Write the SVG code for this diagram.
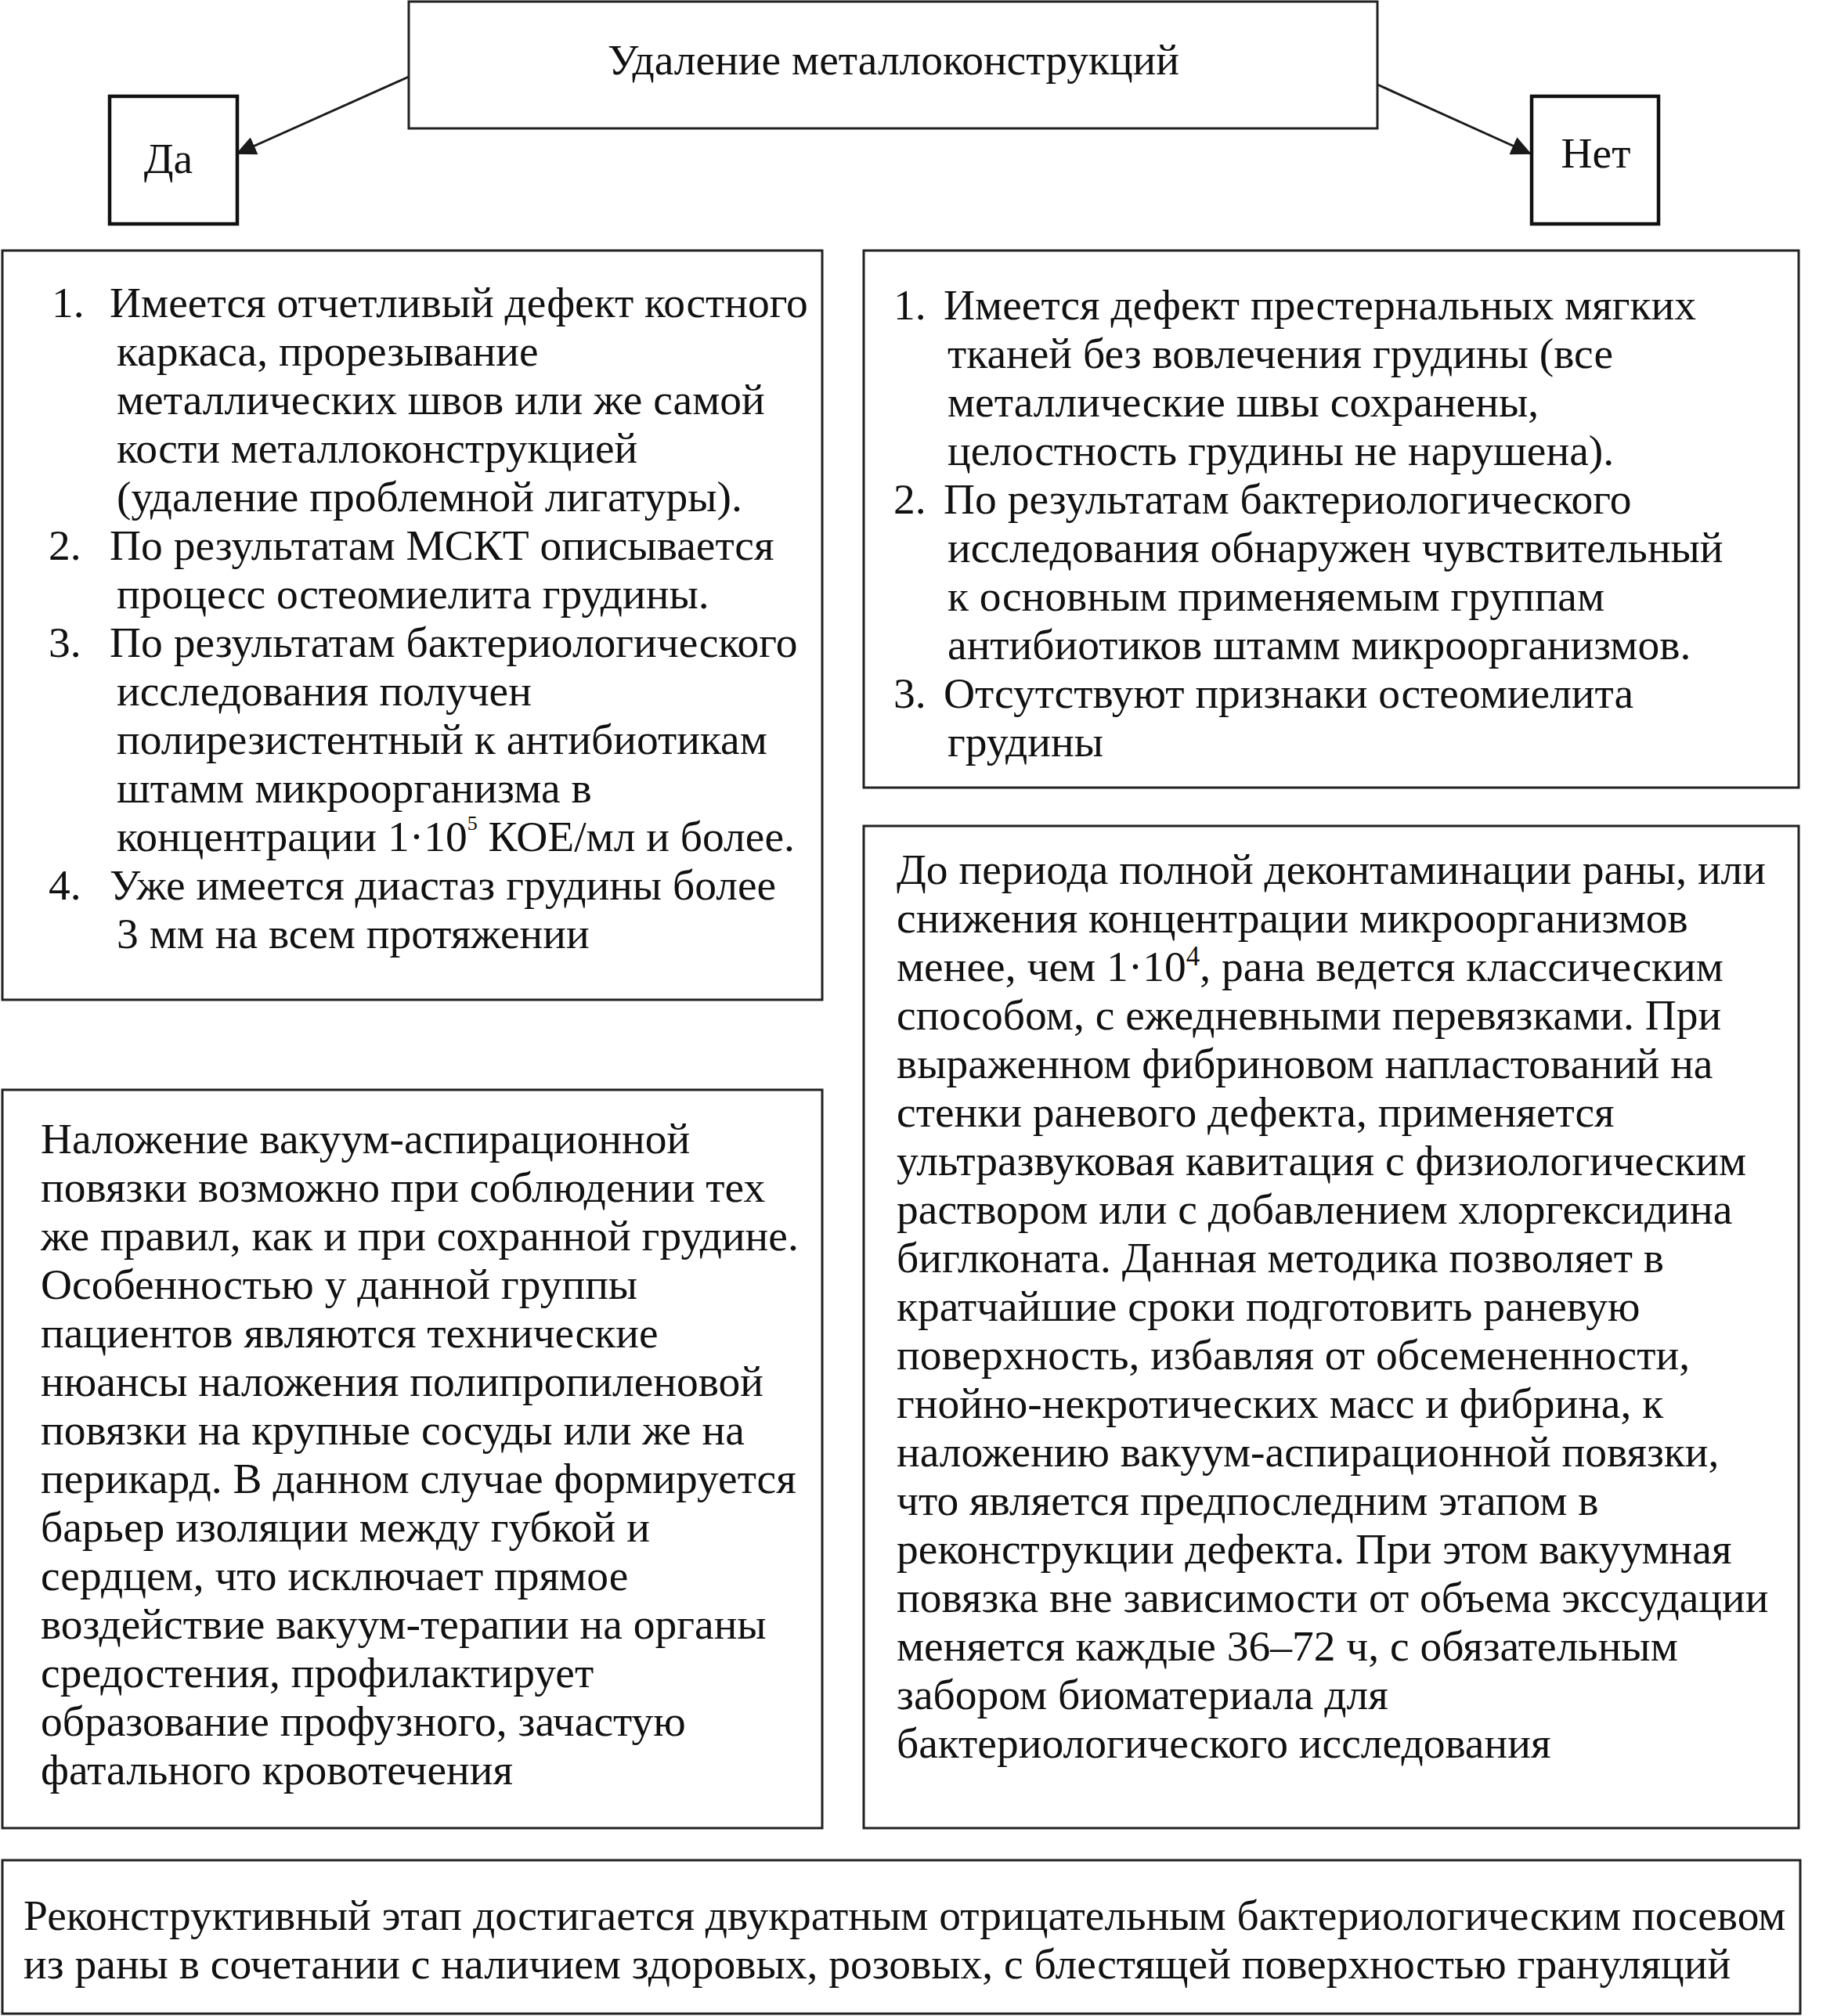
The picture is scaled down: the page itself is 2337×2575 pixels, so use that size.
<svg xmlns="http://www.w3.org/2000/svg" width="2337" height="2575" viewBox="0 0 2337 2575">
<style>
.box{fill:#fff;stroke:#222;stroke-width:3}
.tbox{fill:#fff;stroke:#111;stroke-width:4.5}
.t{font-family:"Liberation Serif","Times New Roman",serif;font-size:55.5px;fill:#111}
.c{text-anchor:middle}
.conn{stroke:#1a1a1a;stroke-width:3;fill:none}
</style>
<defs>
<marker id="ah" markerUnits="userSpaceOnUse" markerWidth="28" markerHeight="24" refX="26" refY="12" orient="auto">
<path d="M0,0 L26,12 L0,24 z" fill="#1a1a1a"/>
</marker>
</defs>
<rect width="2337" height="2575" fill="#fff"/>
<g id="connectors">
<line class="conn" x1="522" y1="98" x2="301" y2="197" marker-end="url(#ah)"/>
<line class="conn" x1="1759" y1="108" x2="1956" y2="197" marker-end="url(#ah)"/>
</g>
<g id="n-root">
<rect class="box" x="522" y="2" width="1237" height="162"/>
<text class="t c" x="1141" y="95">Удаление металлоконструкций</text>
</g>
<g id="n-yes">
<rect class="tbox" x="140" y="123" width="163" height="163"/>
<text class="t c" x="215" y="221">Да</text>
</g>
<g id="n-no">
<rect class="tbox" x="1956" y="123" width="162" height="163"/>
<text class="t c" x="2038" y="214">Нет</text>
</g>
<g id="n-yes-criteria">
<rect class="box" x="3" y="320" width="1047" height="957"/>
<text class="t">
<tspan x="66" y="405">1.</tspan><tspan x="140" y="405">Имеется отчетливый дефект костного</tspan>
<tspan x="149" y="467">каркаса, прорезывание</tspan>
<tspan x="149" y="529">металлических швов или же самой</tspan>
<tspan x="149" y="591">кости металлоконструкцией</tspan>
<tspan x="149" y="653">(удаление проблемной лигатуры).</tspan>
<tspan x="62" y="715">2.</tspan><tspan x="140" y="715">По результатам МСКТ описывается</tspan>
<tspan x="149" y="777">процесс остеомиелита грудины.</tspan>
<tspan x="62" y="839">3.</tspan><tspan x="140" y="839">По результатам бактериологического</tspan>
<tspan x="149" y="901">исследования получен</tspan>
<tspan x="149" y="963">полирезистентный к антибиотикам</tspan>
<tspan x="149" y="1025">штамм микроорганизма в</tspan>
<tspan x="149" y="1087">концентрации 1·10</tspan><tspan font-size="26" dy="-27">5</tspan><tspan dy="27"> КОЕ/мл и более.</tspan>
<tspan x="62" y="1149">4.</tspan><tspan x="140" y="1149">Уже имеется диастаз грудины более</tspan>
<tspan x="149" y="1211">3 мм на всем протяжении</tspan>
</text>
</g>
<g id="n-no-criteria">
<rect class="box" x="1103" y="320" width="1194" height="686"/>
<text class="t">
<tspan x="1141" y="408">1.</tspan><tspan x="1205" y="408">Имеется дефект престернальных мягких</tspan>
<tspan x="1210" y="470">тканей без вовлечения грудины (все</tspan>
<tspan x="1210" y="532">металлические швы сохранены,</tspan>
<tspan x="1210" y="594">целостность грудины не нарушена).</tspan>
<tspan x="1141" y="656">2.</tspan><tspan x="1205" y="656">По результатам бактериологического</tspan>
<tspan x="1210" y="718">исследования обнаружен чувствительный</tspan>
<tspan x="1210" y="780">к основным применяемым группам</tspan>
<tspan x="1210" y="842">антибиотиков штамм микроорганизмов.</tspan>
<tspan x="1141" y="904">3.</tspan><tspan x="1205" y="904">Отсутствуют признаки остеомиелита</tspan>
<tspan x="1210" y="966">грудины</tspan>
</text>
</g>
<g id="n-yes-vac">
<rect class="box" x="3" y="1392" width="1047" height="943"/>
<text class="t">
<tspan x="52" y="1473">Наложение вакуум-аспирационной</tspan>
<tspan x="52" y="1535">повязки возможно при соблюдении тех</tspan>
<tspan x="52" y="1597">же правил, как и при сохранной грудине.</tspan>
<tspan x="52" y="1659">Особенностью у данной группы</tspan>
<tspan x="52" y="1721">пациентов являются технические</tspan>
<tspan x="52" y="1783">нюансы наложения полипропиленовой</tspan>
<tspan x="52" y="1845">повязки на крупные сосуды или же на</tspan>
<tspan x="52" y="1907">перикард. В данном случае формируется</tspan>
<tspan x="52" y="1969">барьер изоляции между губкой и</tspan>
<tspan x="52" y="2031">сердцем, что исключает прямое</tspan>
<tspan x="52" y="2093">воздействие вакуум-терапии на органы</tspan>
<tspan x="52" y="2155">средостения, профилактирует</tspan>
<tspan x="52" y="2217">образование профузного, зачастую</tspan>
<tspan x="52" y="2279">фатального кровотечения</tspan>
</text>
</g>
<g id="n-no-wound">
<rect class="box" x="1103" y="1055" width="1194" height="1280"/>
<text class="t">
<tspan x="1145" y="1129">До периода полной деконтаминации раны, или</tspan>
<tspan x="1145" y="1191">снижения концентрации микроорганизмов</tspan>
<tspan x="1145" y="1253">менее, чем 1·10</tspan><tspan font-size="35" dy="-20">4</tspan><tspan dy="20">, рана ведется классическим</tspan>
<tspan x="1145" y="1315">способом, с ежедневными перевязками. При</tspan>
<tspan x="1145" y="1377">выраженном фибриновом напластований на</tspan>
<tspan x="1145" y="1439">стенки раневого дефекта, применяется</tspan>
<tspan x="1145" y="1501">ультразвуковая кавитация с физиологическим</tspan>
<tspan x="1145" y="1563">раствором или с добавлением хлоргексидина</tspan>
<tspan x="1145" y="1625">биглконата. Данная методика позволяет в</tspan>
<tspan x="1145" y="1687">кратчайшие сроки подготовить раневую</tspan>
<tspan x="1145" y="1749">поверхность, избавляя от обсемененности,</tspan>
<tspan x="1145" y="1811">гнойно-некротических масс и фибрина, к</tspan>
<tspan x="1145" y="1873">наложению вакуум-аспирационной повязки,</tspan>
<tspan x="1145" y="1935">что является предпоследним этапом в</tspan>
<tspan x="1145" y="1997">реконструкции дефекта. При этом вакуумная</tspan>
<tspan x="1145" y="2059">повязка вне зависимости от объема экссудации</tspan>
<tspan x="1145" y="2121">меняется каждые 36–72 ч, с обязательным</tspan>
<tspan x="1145" y="2183">забором биоматериала для</tspan>
<tspan x="1145" y="2245">бактериологического исследования</tspan>
</text>
</g>
<g id="n-reconstruction">
<rect class="box" x="3" y="2376" width="2296" height="196"/>
<text class="t">
<tspan x="30" y="2465">Реконструктивный этап достигается двукратным отрицательным бактериологическим посевом</tspan>
<tspan x="30" y="2527">из раны в сочетании с наличием здоровых, розовых, с блестящей поверхностью грануляций</tspan>
</text>
</g>
</svg>
